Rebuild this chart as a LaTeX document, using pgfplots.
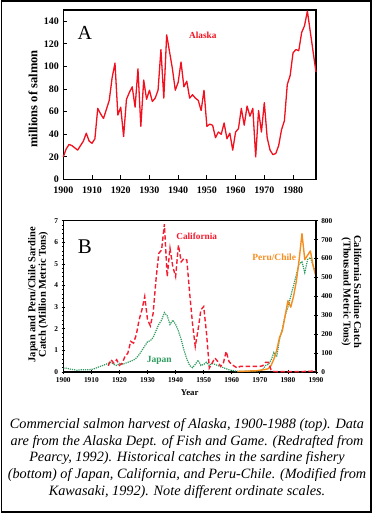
\documentclass[border=0pt]{standalone}
\usepackage{pgfplots}
\pgfplotsset{compat=1.18}
\usepackage{fontspec}
\setmainfont{Liberation Serif}
\definecolor{akred}{HTML}{F2101E}
\definecolor{calred}{HTML}{F41C30}
\definecolor{jpgreen}{HTML}{2E9B5E}
\definecolor{peorange}{HTML}{F58D1E}
\pgfplotsset{/pgf/number format/.cd,1000 sep={},assume math mode=true}
\begin{document}
\begin{tikzpicture}[x=1bp,y=1bp]
\path[use as bounding box] (0,0) rectangle (374,514);
\draw[line width=1.6bp] (1.5,1.8) rectangle (371.2,512.7);
% ---------------- A ----------------
\begin{axis}[at={(63.3bp,334.5bp)}, anchor=south west, scale only axis,
  width=252.7bp, height=169.5bp,
  xmin=1900, xmax=1988, ymin=0, ymax=150,
  xtick={1900,1910,...,1980}, ytick={0,20,...,140},
  tick pos=left, tick align=inside, major tick length=4bp,
  axis line style={line width=1.1bp}, every tick/.style={line width=0.9bp,black},
  tick label style={font=\bfseries\fontsize{10}{10}\selectfont},
  xticklabel style={yshift=-4bp},
  yticklabel style={xshift=-1bp},
  ylabel={millions of salmon},
  ylabel style={font=\bfseries\fontsize{12.6}{13}\selectfont, at={(axis description cs:-0.12,0.475)}, anchor=center, rotate=0},
  clip=false]
\addplot[akred, line width=1.3bp, line join=round] coordinates {
(1900,20)(1901,27)(1902,31)(1903,30)(1904,28)(1905,26)(1906,30)(1907,34)(1908,41)(1909,34)
(1910,32)(1911,36)(1912,63)(1913,58)(1914,54)(1915,62)(1916,70)(1917,90)(1918,103)(1919,57)
(1920,64)(1921,38)(1922,71)(1923,77)(1924,82)(1925,64)(1926,98)(1927,47)(1928,88)(1929,71)
(1930,79)(1931,69)(1932,72)(1933,79)(1934,115)(1935,72)(1936,128)(1937,113)(1938,98)(1939,79)
(1940,86)(1941,104)(1942,82)(1943,87)(1944,72)(1945,75)(1946,72)(1947,70)(1948,61)(1949,79)
(1950,47)(1951,49)(1952,48)(1953,37)(1954,42)(1955,40)(1956,50)(1957,36)(1958,41)(1959,26)
(1960,42)(1961,45)(1962,63)(1963,48)(1964,65)(1965,56)(1966,63)(1967,20)(1968,61)(1969,42)
(1970,68)(1971,37)(1972,26)(1973,22)(1974,23)(1975,30)(1976,44)(1977,52)(1978,84)(1979,92)
(1980,112)(1981,115)(1982,114)(1983,130)(1984,136)(1985,149)(1986,131)(1987,113)(1988,95)};
\node[font=\fontsize{20}{20}\selectfont] at (axis cs:1907.5,129.6) {A};
\node[akred, font=\bfseries\fontsize{9.3}{10}\selectfont] at (axis cs:1948.6,127.9) {Alaska};
\end{axis}
% ---------------- B left ----------------
\begin{axis}[at={(63.3bp,142bp)}, anchor=south west, scale only axis,
  width=252.7bp, height=151.3bp,
  xmin=1900, xmax=1990, ymin=0, ymax=7,
  xtick={1900,1910,...,1990}, ytick={0,1,...,7},
  minor x tick num=4, minor y tick num=4,
  xtick pos=bottom, ytick pos=left, tick align=center,
  major tick length=3.5bp, minor tick length=2bp,
  axis line style={line width=1.1bp}, every tick/.style={line width=0.8bp,black},
  tick label style={font=\bfseries\fontsize{7.4}{7.4}\selectfont},
  xlabel={Year},
  xlabel style={font=\bfseries\fontsize{8.8}{9}\selectfont, at={(axis description cs:0.5,-0.135)}, anchor=center},
  ylabel={Japan and Peru/Chile Sardine\\Catch (Million Metric Tons)},
  ylabel style={font=\bfseries\fontsize{10.5}{10.5}\selectfont, align=center, at={(axis description cs:-0.1,0.51)}, anchor=center, rotate=0},
  clip=false]
\addplot[jpgreen, line width=1.2bp, densely dotted] coordinates {
(1900,0.18)(1901,0.18)(1902,0.15)(1903,0.12)(1904,0.1)(1905,0.08)(1906,0.1)(1907,0.1)(1908,0.1)(1909,0.1)
(1910,0.12)(1911,0.15)(1912,0.2)(1913,0.25)(1914,0.3)(1915,0.35)(1916,0.4)(1917,0.45)(1918,0.35)(1919,0.3)
(1920,0.4)(1921,0.35)(1922,0.4)(1923,0.45)(1924,0.5)(1925,0.55)(1926,0.65)(1927,0.8)(1928,1.0)(1929,1.2)
(1930,1.4)(1931,1.45)(1932,1.6)(1933,1.9)(1934,2.2)(1935,2.4)(1936,2.75)(1937,2.6)(1938,2.2)(1939,2.4)
(1940,2.2)(1941,1.9)(1942,1.5)(1943,1.0)(1944,0.6)(1945,0.3)(1946,0.2)(1947,0.35)(1948,0.55)(1949,0.3)
(1950,0.35)(1951,0.45)(1952,0.3)(1953,0.4)(1954,0.35)(1955,0.3)(1956,0.25)(1957,0.2)(1958,0.15)(1959,0.1)
(1960,0.08)(1961,0.05)(1962,0.03)(1963,0.03)(1964,0.04)(1965,0.03)(1966,0.04)(1967,0.05)(1968,0.04)(1969,0.05)
(1970,0.06)(1971,0.1)(1972,0.3)(1973,0.35)(1974,0.55)(1975,0.9)(1976,0.7)(1977,1.5)(1978,2.0)(1979,2.6)
(1980,3.0)(1981,3.5)(1982,4.0)(1983,4.5)(1984,5.0)(1985,5.1)(1986,4.6)(1987,5.2)(1988,5.3)(1989,4.9)(1990,4.6)};
\addplot[peorange, line width=1.4bp, line join=round] coordinates {
(1962,0.02)(1963,0.03)(1964,0.03)(1965,0.04)(1966,0.04)(1967,0.05)(1968,0.05)(1969,0.06)(1970,0.08)(1971,0.1)
(1972,0.12)(1973,0.15)(1974,0.3)(1975,0.6)(1976,1.0)(1977,1.6)(1978,1.9)(1979,2.6)(1980,3.3)(1981,3.0)
(1982,3.5)(1983,4.2)(1984,5.2)(1985,6.4)(1986,5.2)(1987,5.4)(1988,5.6)(1989,4.9)(1990,4.4)};
\node[font=\fontsize{21}{21}\selectfont] at (axis cs:1907.7,5.8) {B};
\node[calred, font=\bfseries\fontsize{9.3}{10}\selectfont] at (axis cs:1947.5,6.29) {California};
\node[jpgreen, font=\bfseries\fontsize{9.5}{10}\selectfont] at (axis cs:1934.2,0.555) {Japan};
\node[peorange, font=\bfseries\fontsize{9.5}{10}\selectfont] at (axis cs:1975.1,5.29) {Peru/Chile};
\end{axis}
% ---------------- B right ----------------
\begin{axis}[at={(63.3bp,142bp)}, anchor=south west, scale only axis,
  width=252.7bp, height=151.3bp,
  xmin=1900, xmax=1990, ymin=0, ymax=800,
  hide x axis, axis y line*=right,
  ytick={0,100,...,800}, minor y tick num=4, tick align=center,
  major tick length=3.5bp, minor tick length=2bp,
  axis line style={line width=1.1bp,-}, every tick/.style={line width=0.8bp,black},
  tick label style={font=\bfseries\fontsize{7.4}{7.4}\selectfont},
  ylabel={California Sardine Catch\\(Thousand Metric Tons)},
  ylabel style={font=\bfseries\fontsize{10.5}{10.5}\selectfont, align=center, at={(axis description cs:1.14,0.53)}, anchor=center, rotate=180},
  clip=false]
\addplot[calred, line width=1.4bp, dash pattern=on 4.5bp off 2.5bp] coordinates {
(1916,33)(1917,65)(1918,47)(1919,65)(1920,35)(1921,47)(1922,83)(1923,100)(1924,162)(1925,153)
(1926,197)(1927,276)(1928,329)(1929,399)(1930,276)(1931,244)(1932,311)(1933,487)(1934,627)(1935,645)
(1936,782)(1937,504)(1938,654)(1939,557)(1940,504)(1941,671)(1942,583)(1943,601)(1944,592)(1945,417)
(1946,258)(1947,135)(1948,223)(1949,329)(1950,346)(1951,206)(1952,21)(1953,47)(1954,74)(1955,56)
(1956,30)(1957,47)(1958,109)(1959,56)(1960,39)(1961,30)(1962,21)(1963,30)(1964,30)(1965,30)
(1966,30)(1967,30)(1968,30)(1969,30)(1970,30)(1971,33)(1972,51)(1973,51)(1974,12)(1975,3)
(1976,2)(1977,2)(1978,2)(1979,2)(1980,2)(1981,2)(1982,2)(1983,2)(1984,2)(1985,2)(1986,3)(1987,3)(1988,4)(1989,5)(1990,6)};
\end{axis}
% ---------------- caption ----------------
\node[align=center, font=\itshape\fontsize{14.3}{16.7}\selectfont, anchor=center] at (187,514-458.3) {Commercial salmon harvest of Alaska, 1900-1988 (top). Data\\are from the Alaska Dept. of Fish and Game. (Redrafted from\\Pearcy, 1992). Historical catches in the sardine fishery\\(bottom) of Japan, California, and Peru-Chile. (Modified from\\Kawasaki, 1992). Note different ordinate scales.};
\end{tikzpicture}
\end{document}
